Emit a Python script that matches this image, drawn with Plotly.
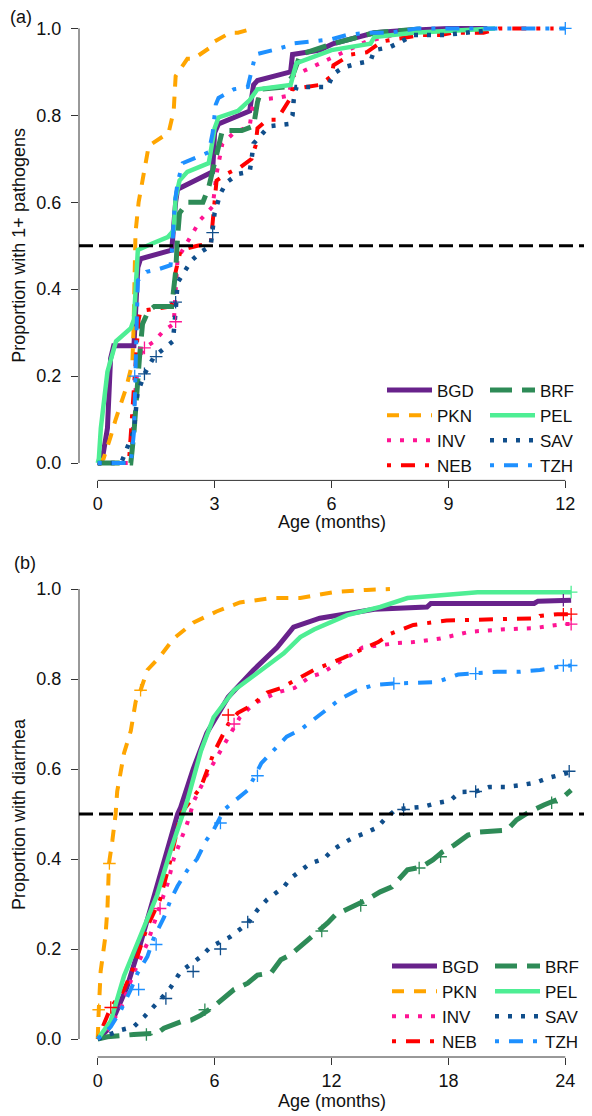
import plotly.graph_objects as go
import plotly.io as pio

pio.templates.default = "none"

# ---------------- data ----------------
sites = ["BGD", "PKN", "INV", "NEB", "BRF", "PEL", "SAV", "TZH"]

# Panel (a): proportion with 1+ pathogens vs age (months)
a_BGD_t = [0, 0.05, 0.12, 0.25, 0.33, 0.41, 0.93, 1.0, 1.03, 1.1, 1.9, 2.0, 2.05, 2.5, 2.95, 3.0, 3.1, 3.9, 4.0, 4.1, 4.95, 5.0, 5.7, 6.05, 7.1, 7.85, 9.0, 10.0]
a_BGD_p = [0, 0.0, 0.01, 0.08, 0.24, 0.27, 0.27, 0.40, 0.45, 0.47, 0.49, 0.60, 0.63, 0.65, 0.67, 0.76, 0.78, 0.81, 0.87, 0.88, 0.90, 0.94, 0.95, 0.965, 0.99, 0.995, 1.0, 1.0]
a_PKN_t = [0, 0.15, 0.33, 0.46, 0.72, 0.89, 0.92, 0.97, 1.05, 1.18, 1.31, 1.82, 1.95, 2.0, 2.3, 2.46, 2.95, 3.0, 3.4, 3.6, 4.0]
a_PKN_p = [0, 0.01, 0.06, 0.10, 0.17, 0.23, 0.31, 0.53, 0.60, 0.67, 0.73, 0.76, 0.81, 0.89, 0.93, 0.93, 0.96, 0.97, 0.99, 0.99, 1.0]
a_INV_t = [0, 0.85, 0.95, 1.05, 1.2, 1.45, 1.7, 1.95, 2.05, 2.3, 2.64, 2.95, 3.05, 3.2, 3.5, 3.9, 4.0, 4.6, 4.9, 5.0, 5.7, 6.9, 8.3]
a_INV_p = [0, 0.0, 0.15, 0.24, 0.265, 0.28, 0.305, 0.32, 0.47, 0.51, 0.56, 0.59, 0.665, 0.735, 0.76, 0.775, 0.835, 0.84, 0.845, 0.89, 0.92, 0.97, 1.0]
a_NEB_t = [0, 0.8, 0.95, 1.05, 1.1, 1.5, 1.85, 1.95, 2.0, 2.13, 2.56, 2.9, 3.0, 3.05, 3.3, 3.65, 3.95, 4.05, 4.1, 4.35, 4.6, 4.95, 5.0, 5.7, 6.0, 6.05, 6.5, 6.9, 7.3, 8.3, 8.8, 9.1, 9.9, 10.3, 11.7]
a_NEB_p = [0, 0.0, 0.2, 0.33, 0.35, 0.355, 0.36, 0.37, 0.44, 0.49, 0.50, 0.505, 0.62, 0.65, 0.665, 0.68, 0.70, 0.73, 0.77, 0.79, 0.79, 0.84, 0.86, 0.87, 0.89, 0.915, 0.94, 0.945, 0.97, 0.985, 0.985, 0.99, 0.99, 1.0, 1.0]
a_BRF_t = [0, 0.85, 0.93, 1.0, 1.07, 1.15, 1.3, 1.45, 1.9, 1.95, 2.0, 2.05, 2.1, 2.3, 2.7, 2.85, 3.05, 3.2, 3.7, 4.0, 4.1, 4.2, 4.8, 5.0, 5.2, 6.05, 7.1, 8.5]
a_BRF_p = [0, 0.0, 0.07, 0.17, 0.24, 0.32, 0.35, 0.36, 0.36, 0.40, 0.44, 0.52, 0.575, 0.60, 0.60, 0.635, 0.71, 0.765, 0.765, 0.775, 0.83, 0.86, 0.865, 0.89, 0.94, 0.965, 0.99, 1.0]
a_PEL_t = [0, 0.03, 0.08, 0.25, 0.47, 0.85, 0.93, 0.98, 1.03, 1.4, 1.8, 1.95, 2.0, 2.1, 2.3, 2.85, 3.0, 3.1, 3.6, 3.9, 4.1, 4.95, 5.1, 6.0, 7.0, 7.1, 8.1, 10.2]
a_PEL_p = [0, 0.01, 0.08, 0.21, 0.28, 0.31, 0.33, 0.42, 0.49, 0.505, 0.52, 0.535, 0.61, 0.65, 0.67, 0.69, 0.77, 0.795, 0.81, 0.835, 0.86, 0.87, 0.92, 0.95, 0.965, 0.98, 0.99, 1.0]
a_SAV_t = [0, 0.6, 0.67, 0.93, 1.02, 1.2, 1.45, 1.7, 1.93, 2.0, 2.05, 2.4, 2.64, 2.9, 3.0, 3.15, 3.3, 3.6, 3.9, 3.95, 4.0, 4.4, 4.9, 5.0, 5.03, 5.1, 5.9, 6.05, 6.3, 6.7, 7.0, 7.1, 7.5, 7.8, 8.1, 8.9, 9.6, 10.0]
a_SAV_p = [0, 0.0, 0.015, 0.075, 0.16, 0.205, 0.245, 0.265, 0.28, 0.35, 0.415, 0.465, 0.485, 0.50, 0.575, 0.62, 0.645, 0.665, 0.67, 0.70, 0.735, 0.775, 0.78, 0.80, 0.835, 0.865, 0.865, 0.895, 0.91, 0.92, 0.925, 0.95, 0.957, 0.97, 0.985, 0.985, 0.99, 0.995]
a_TZH_t = [0, 0.85, 0.93, 0.97, 1.0, 1.03, 1.25, 1.53, 1.87, 1.92, 1.98, 2.05, 2.18, 2.56, 2.85, 2.95, 3.03, 3.1, 3.5, 3.85, 4.0, 4.05, 4.5, 4.9, 5.0, 5.45, 6.0, 6.4, 6.9, 7.5, 8.2, 9.5, 11.0, 12.0]
a_TZH_p = [0, 0.0, 0.07, 0.19, 0.28, 0.42, 0.44, 0.445, 0.455, 0.505, 0.60, 0.645, 0.69, 0.705, 0.715, 0.76, 0.825, 0.84, 0.86, 0.865, 0.92, 0.94, 0.95, 0.96, 0.965, 0.97, 0.975, 0.985, 0.99, 0.99, 1.0, 1.0, 1.0, 1.0]

# censoring marks, panel (a)
a_cens = {
    "INV": ([1.2, 2.0], [0.265, 0.325]),
    "SAV": ([1.2, 1.5, 2.0, 2.95], [0.205, 0.245, 0.37, 0.53]),
    "TZH": ([0.95, 12.0], [0.20, 1.0]),
}

# Panel (b): proportion with diarrhea vs age (months)
b_BGD_t = [0, 0.5, 0.92, 1.5, 2.2, 2.7, 3.2, 3.74, 4.1, 4.26, 4.9, 5.6, 6.7, 8.0, 9.2, 10.05, 11.4, 12.8, 14.2, 16.9, 17.1, 22.4, 22.6, 24.3]
b_BGD_p = [0, 0.02, 0.057, 0.115, 0.213, 0.29, 0.36, 0.45, 0.50, 0.515, 0.60, 0.68, 0.76, 0.82, 0.87, 0.915, 0.935, 0.945, 0.955, 0.96, 0.968, 0.968, 0.973, 0.975]
b_PKN_t = [0, 0.03, 0.05, 0.15, 0.4, 0.5, 0.58, 0.75, 0.92, 1.0, 1.35, 1.7, 1.95, 2.2, 2.55, 3.2, 3.9, 4.9, 6.1, 7.3, 8.9, 10.4, 12.1, 13.8, 15.0]
b_PKN_p = [0, 0.02, 0.06, 0.15, 0.23, 0.29, 0.39, 0.44, 0.50, 0.55, 0.635, 0.685, 0.75, 0.775, 0.82, 0.85, 0.89, 0.925, 0.95, 0.97, 0.98, 0.98, 0.993, 0.998, 1.0]
b_INV_t = [0, 0.5, 1.2, 1.85, 2.55, 3.05, 3.6, 3.9, 4.6, 4.95, 5.64, 6.3, 7.3, 8.0, 9.2, 10.1, 10.9, 11.5, 12.8, 13.6, 15.4, 16.2, 17.6, 19.1, 20.7, 22.4, 23.9, 24.3]
b_INV_p = [0, 0.02, 0.07, 0.147, 0.213, 0.28, 0.347, 0.40, 0.48, 0.53, 0.59, 0.64, 0.715, 0.745, 0.77, 0.78, 0.805, 0.813, 0.847, 0.87, 0.88, 0.882, 0.89, 0.905, 0.91, 0.913, 0.922, 0.922]
b_NEB_t = [0, 0.3, 0.67, 1.35, 1.85, 2.55, 3.2, 3.75, 4.26, 5.3, 5.95, 6.7, 7.2, 7.85, 8.7, 9.4, 10.2, 11.1, 12.6, 14.4, 15.0, 16.2, 17.9, 20.3, 22.6, 22.7, 23.6, 24.3]
b_NEB_p = [0, 0.03, 0.07, 0.11, 0.16, 0.25, 0.31, 0.40, 0.50, 0.56, 0.635, 0.70, 0.725, 0.74, 0.77, 0.78, 0.80, 0.82, 0.847, 0.882, 0.90, 0.92, 0.93, 0.933, 0.935, 0.94, 0.944, 0.944]
b_BRF_t = [0, 0.5, 1.85, 3.05, 3.4, 4.26, 4.8, 5.3, 5.95, 6.5, 7.0, 7.7, 8.2, 8.9, 9.4, 9.9, 10.6, 11.1, 11.8, 12.2, 13.0, 13.8, 14.5, 15.1, 15.9, 16.6, 17.2, 17.7, 18.3, 19.0, 19.6, 21.0, 21.5, 22.05, 22.9, 23.9, 24.3]
b_BRF_p = [0, 0.005, 0.01, 0.013, 0.024, 0.038, 0.042, 0.053, 0.072, 0.093, 0.11, 0.124, 0.142, 0.147, 0.176, 0.187, 0.213, 0.231, 0.258, 0.276, 0.293, 0.309, 0.327, 0.338, 0.376, 0.382, 0.398, 0.416, 0.431, 0.453, 0.46, 0.464, 0.487, 0.502, 0.52, 0.538, 0.553]
b_PEL_t = [0, 0.67, 1.35, 2.0, 2.55, 3.05, 3.75, 4.35, 4.6, 5.3, 5.95, 7.0, 8.4, 9.55, 10.4, 11.1, 12.8, 14.5, 15.9, 17.6, 19.5, 24.3]
b_PEL_p = [0, 0.04, 0.14, 0.21, 0.27, 0.32, 0.42, 0.50, 0.53, 0.64, 0.715, 0.775, 0.82, 0.857, 0.893, 0.91, 0.942, 0.96, 0.98, 0.987, 0.993, 0.993]
b_SAV_t = [0, 1.2, 1.85, 2.4, 3.2, 3.75, 4.26, 5.3, 5.8, 6.8, 7.7, 8.2, 8.7, 9.55, 9.9, 10.4, 10.9, 11.6, 12.05, 12.6, 13.1, 13.7, 14.35, 14.7, 15.3, 15.9, 16.7, 17.4, 18.1, 18.6, 19.4, 20.1, 20.9, 21.7, 22.5, 23.1, 23.8, 24.3]
b_SAV_p = [0, 0.02, 0.027, 0.05, 0.087, 0.115, 0.15, 0.183, 0.205, 0.227, 0.257, 0.287, 0.31, 0.338, 0.357, 0.375, 0.39, 0.40, 0.42, 0.435, 0.447, 0.457, 0.47, 0.487, 0.51, 0.513, 0.516, 0.524, 0.53, 0.549, 0.55, 0.56, 0.56, 0.564, 0.57, 0.58, 0.587, 0.593]
b_TZH_t = [0, 0.67, 1.2, 1.7, 2.05, 2.55, 2.9, 3.4, 3.75, 4.1, 4.6, 5.1, 5.55, 5.95, 6.5, 7.7, 8.4, 9.7, 10.4, 11.1, 11.8, 12.5, 13.3, 14.2, 15.2, 17.4, 18.5, 19.5, 20.5, 21.7, 22.7, 23.9, 24.3]
b_TZH_p = [0, 0.027, 0.065, 0.11, 0.147, 0.183, 0.227, 0.27, 0.31, 0.34, 0.375, 0.40, 0.44, 0.465, 0.51, 0.553, 0.613, 0.672, 0.687, 0.71, 0.735, 0.757, 0.775, 0.787, 0.79, 0.793, 0.81, 0.813, 0.816, 0.816, 0.82, 0.829, 0.83]

# censoring marks, panel (b)
b_cens = {
    "PKN": ([0.05, 0.6, 2.2], [0.065, 0.39, 0.775]),
    "NEB": ([0.67, 6.7, 23.9, 24.3], [0.07, 0.72, 0.944, 0.944]),
    "INV": ([3.2, 7.0, 24.3], [0.29, 0.70, 0.922]),
    "TZH": ([2.1, 3.0, 6.3, 8.2, 15.2, 19.4, 23.9, 24.3], [0.11, 0.21, 0.48, 0.585, 0.79, 0.812, 0.83, 0.83]),
    "SAV": ([3.5, 4.9, 6.3, 7.7, 15.7, 19.4, 24.2], [0.09, 0.15, 0.20, 0.26, 0.51, 0.55, 0.595]),
    "BRF": ([2.5, 5.5, 11.5, 13.5, 16.5, 17.6, 23.3], [0.01, 0.065, 0.24, 0.297, 0.38, 0.405, 0.525]),
    "BGD": ([23.9], [0.975]),
    "PEL": ([24.3], [0.993]),
}

a_xticks = [0, 3, 6, 9, 12]
b_xticks = [0, 6, 12, 18, 24]
y_ticks = [0.0, 0.2, 0.4, 0.6, 0.8, 1.0]
y_ticklabels = ["0.0", "0.2", "0.4", "0.6", "0.8", "1.0"]

panel_a = {s: (globals()["a_%s_t" % s], globals()["a_%s_p" % s]) for s in sites}
panel_b = {s: (globals()["b_%s_t" % s], globals()["b_%s_p" % s]) for s in sites}

# ---------------- styles ----------------
style = {
    "BGD": dict(color="#68228B", width=5, dash="solid"),
    "PKN": dict(color="#FFA500", width=4, dash="12px,10px"),
    "INV": dict(color="#FF1493", width=4, dash="4px,9px"),
    "NEB": dict(color="#FF0000", width=4, dash="4px,10px,14px,10px"),
    "BRF": dict(color="#2E8B57", width=5, dash="22px,10px"),
    "PEL": dict(color="#4EEE94", width=4.5, dash="solid"),
    "SAV": dict(color="#104E8B", width=4.5, dash="4px,9px"),
    "TZH": dict(color="#1E90FF", width=4, dash="4px,10px,14px,10px"),
}
group_of = {"BGD": 1, "PKN": 1, "INV": 1, "NEB": 1, "BRF": 2, "PEL": 2, "SAV": 2, "TZH": 2}

FONT = "Liberation Sans, Arial, Helvetica, sans-serif"
TXT = "#111111"

fig = go.Figure()

for panel, data, cens, xa, ya, leg in [
    ("a", panel_a, a_cens, "x", "y", "legend"),
    ("b", panel_b, b_cens, "x2", "y2", "legend2"),
]:
    for s in sites:
        t, p = data[s]
        fig.add_trace(go.Scatter(
            x=t, y=p, mode="lines", name=s,
            line=dict(color=style[s]["color"], width=style[s]["width"], dash=style[s]["dash"]),
            xaxis=xa, yaxis=ya, legend=leg,
            legendgroup="%s%d" % (panel, group_of[s]),
            showlegend=True, hoverinfo="skip",
        ))
    for s in sites:
        if s in cens and len(cens[s][0]):
            ct, cp = cens[s]
            fig.add_trace(go.Scatter(
                x=ct, y=cp, mode="markers", showlegend=False,
                marker=dict(symbol="cross-thin", size=9, line=dict(color=style[s]["color"], width=1.3)),
                xaxis=xa, yaxis=ya, hoverinfo="skip",
            ))

# ---------------- layout ----------------
W, H = 592, 1116
ML, MR, MT, MB = 79, 8, 11, 59
ph = H - MT - MB          # paper height in px
def py(px):               # page pixel y -> paper fraction
    return (H - MB - px) / ph
def pxf(px):              # page pixel x -> paper fraction
    return (px - ML) / (W - ML - MR)

axis_common = dict(showgrid=False, zeroline=False, showline=False, ticks="outside",
                   ticklen=7, tickwidth=1, tickcolor="#333333", automargin=False,
                   tickfont=dict(family=FONT, size=18, color=TXT))

legend_common = dict(orientation="h", traceorder="grouped", xanchor="left",
                     yanchor="middle", bgcolor="rgba(0,0,0,0)", borderwidth=0,
                     itemwidth=45, entrywidth=43, entrywidthmode="pixels",
                     font=dict(family=FONT, size=17, color=TXT), tracegroupgap=0,
                     itemclick=False, itemdoubleclick=False)

fig.update_layout(
    width=W, height=H,
    margin=dict(l=ML, r=MR, t=MT, b=MB, autoexpand=False),
    paper_bgcolor="white", plot_bgcolor="white",
    font=dict(family=FONT, size=18, color=TXT),
    showlegend=True,
    xaxis=dict(domain=[0, 1], anchor="y", range=[-0.48, 12.48], tickvals=a_xticks, **axis_common),
    yaxis=dict(domain=[py(480.4), 1.0], anchor="x", range=[-0.04, 1.04], tickvals=y_ticks,
               ticktext=y_ticklabels, ticklabelstandoff=6, **axis_common),
    xaxis2=dict(domain=[0, 1], anchor="y2", range=[-0.96, 24.96], tickvals=b_xticks, **axis_common),
    yaxis2=dict(domain=[0, py(571)], anchor="x2", range=[-0.04, 1.04], tickvals=y_ticks,
                ticktext=y_ticklabels, ticklabelstandoff=6, **axis_common),
    legend=dict(x=pxf(382), y=py(428), **legend_common),
    legend2=dict(x=pxf(387), y=py(1004), **legend_common),
)

shapes = []
for xa, ya, xmax in [("x", "y", 12), ("x2", "y2", 24)]:
    shapes.append(dict(type="line", xref=xa, yref=ya + " domain", x0=0, x1=xmax, y0=0, y1=0,
                       line=dict(color="#333333", width=1)))
    shapes.append(dict(type="line", xref=xa + " domain", yref=ya, x0=0, x1=0, y0=0, y1=1,
                       line=dict(color="#333333", width=1)))
    shapes.append(dict(type="line", xref=xa + " domain", yref=ya, x0=0, x1=1, y0=0.5, y1=0.5,
                       line=dict(color="black", width=3, dash="14px,6px"), layer="above"))
fig.update_layout(shapes=shapes)

ann = []
ann.append(dict(text="Proportion with 1+ pathogens", xref="paper", x=0, xshift=-60, xanchor="center",
                yref="y", y=0.5, yanchor="middle", textangle=-90, showarrow=False,
                font=dict(family=FONT, size=18, color=TXT)))
ann.append(dict(text="Proportion with diarrhea", xref="paper", x=0, xshift=-60, xanchor="center",
                yref="y2", y=0.5, yanchor="middle", textangle=-90, showarrow=False,
                font=dict(family=FONT, size=18, color=TXT)))
ann.append(dict(text="Age (months)", xref="x", x=6, xanchor="center",
                yref="y domain", y=0, yshift=-42, yanchor="middle", showarrow=False,
                font=dict(family=FONT, size=18, color=TXT)))
ann.append(dict(text="Age (months)", xref="x2", x=12, xanchor="center",
                yref="y2 domain", y=0, yshift=-44, yanchor="middle", showarrow=False,
                font=dict(family=FONT, size=18, color=TXT)))
ann.append(dict(text="(a)", xref="paper", x=0, xshift=-71, xanchor="left",
                yref="paper", y=py(17), yanchor="middle", showarrow=False,
                font=dict(family=FONT, size=18, color=TXT)))
ann.append(dict(text="(b)", xref="paper", x=0, xshift=-67, xanchor="left",
                yref="paper", y=py(563), yanchor="middle", showarrow=False,
                font=dict(family=FONT, size=18, color=TXT)))
fig.update_layout(annotations=ann)

# remove the browser's default 8px body margin so the figure sits at the page origin
fig.write_html("out.html", config={"displayModeBar": False, "staticPlot": True},
               post_script="document.body.style.margin='0';document.body.style.overflow='hidden';")
